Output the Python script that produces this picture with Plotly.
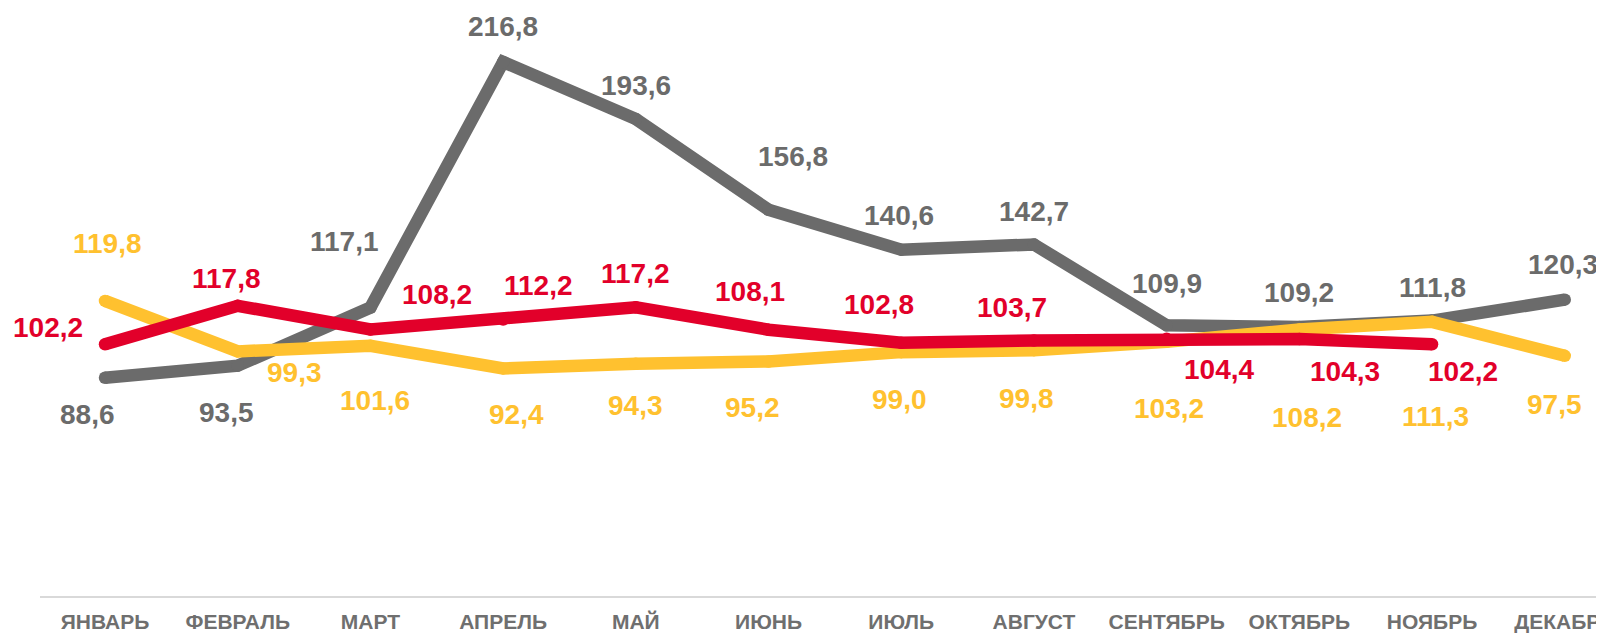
import plotly.graph_objects as go

months = ["ЯНВАРЬ", "ФЕВРАЛЬ", "МАРТ", "АПРЕЛЬ", "МАЙ", "ИЮНЬ", "ИЮЛЬ",
          "АВГУСТ", "СЕНТЯБРЬ", "ОКТЯБРЬ", "НОЯБРЬ", "ДЕКАБРЬ"]

gray_values = [88.6, 93.5, 117.1, 216.8, 193.6, 156.8, 140.6, 142.7, 109.9, 109.2, 111.8, 120.3]
yellow_values = [119.8, 99.3, 101.6, 92.4, 94.3, 95.2, 99.0, 99.8, 103.2, 108.2, 111.3, 97.5]
red_values = [102.2, 117.8, 108.2, 112.2, 117.2, 108.1, 102.8, 103.7, 104.4, 104.3, 102.2]

GRAY = "#6b6b6b"
YELLOW = "#ffc12f"
RED = "#e2002a"

# label offsets in pixels (dx right, dy down)
gray_off = [(-18, 37), (-11, 47), (-26, -66), (0, -35), (0, -34), (24, -53),
            (-2, -34), (0, -33), (0, -42), (0, -35), (0, -33), (-2, -35)]
yellow_off = [(2, -57), (57, 21), (5, 55), (13, 46), (0, 42), (-16, 46),
              (-2, 47), (-7, 48), (2, 67), (8, 88), (3, 95), (-10, 49)]
red_off = [(-57, -17), (-11, -27), (67, -35), (35, -34), (0, -34), (-19, -38),
           (-22, -38), (-22, -33), (52, 31), (46, 32), (31, 27)]

LW = 12.5

fig = go.Figure()
for vals, col in [(gray_values, GRAY), (yellow_values, YELLOW), (red_values, RED)]:
    fig.add_trace(go.Scatter(
        x=months[:len(vals)], y=vals, mode="lines+markers",
        line=dict(color=col, width=LW),
        marker=dict(color=col, size=LW, line=dict(width=0)),
        cliponaxis=False, hoverinfo="skip", showlegend=False))

annotations = []
for vals, col, offs in [(gray_values, GRAY, gray_off), (yellow_values, YELLOW, yellow_off),
                        (red_values, RED, red_off)]:
    for m, v, (dx, dy) in zip(months, vals, offs):
        annotations.append(dict(
            x=m, y=v, xref="x", yref="y", showarrow=False,
            text=f"{v:.1f}".replace(".", ","),
            xshift=dx, yshift=-dy,
            font=dict(family="Liberation Sans, Arial, sans-serif", size=28,
                      color=col, weight="bold")))

fig.update_layout(
    width=1604, height=633,
    margin=dict(l=32, r=0, t=0, b=45, autoexpand=False),
    paper_bgcolor="white", plot_bgcolor="white",
    annotations=annotations,
    xaxis=dict(type="category", categoryorder="array", categoryarray=months,
               range=[-0.49, 11.356], showgrid=False, zeroline=False,
               automargin=False,
               showline=True, linecolor="#d9d9d9", linewidth=2,
               ticks="", ticklabelstandoff=6,
               tickfont=dict(family="Liberation Sans, Arial, sans-serif", size=21,
                             color="#6f6f6f", weight="bold")),
    yaxis=dict(range=[0, 238.7], visible=False, showgrid=False, zeroline=False,
               automargin=False),
)

fig.write_html("out.html")
